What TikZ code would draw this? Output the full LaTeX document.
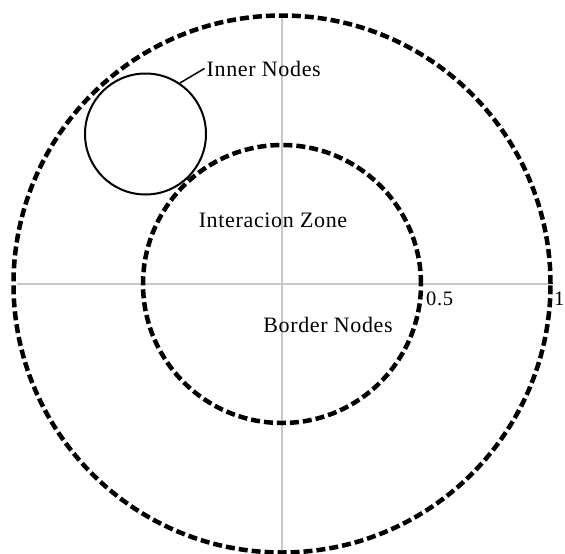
\documentclass[tikz,border=0pt]{standalone}
\usepackage{fontspec}
\setmainfont{Liberation Serif}[LetterSpace=3]
\tikzset{
  zone/.style={circle, draw, line width=4.5pt, dash pattern=on 9pt off 4pt, inner sep=0pt},
  solidzone/.style={circle, draw, line width=2pt, inner sep=0pt},
  axis/.style={draw=black!22, line width=1.2pt},
  lbl/.style={inner sep=0pt, font=\fontsize{22}{26}\selectfont},
  tick/.style={inner sep=0pt, font=\fontsize{20.5}{24}\selectfont}
}
\begin{document}
\begin{tikzpicture}[x=1pt,y=-1pt]
\useasboundingbox (0,0) rectangle (565,554);
% axes
\coordinate (hl) at (17,284);
\coordinate (hr) at (548,284);
\coordinate (vt) at (282,17);
\coordinate (vb) at (282,554);
\draw[axis] (hl) -- (hr);
\draw[axis] (vt) -- (vb);
% circles
\node[zone, minimum size=537pt] (outer) at (282,284) {};
\node[zone, minimum size=278pt] (inner) at (282,284) {};
\node[solidzone, minimum size=121pt] (small) at (145.5,134) {};
% labels
\node[lbl, anchor=base west] (innerlbl) at (206.5,76) {Inner Nodes};
\node[lbl, anchor=base] (zonelbl) at (273,227.3) {Interacion Zone};
\node[lbl, anchor=base] (borderlbl) at (328,332.7) {Border Nodes};
\node[tick, anchor=base west] (half) at (426,305.7) {0.5};
\node[tick, anchor=base east] (one) at (564.5,305.7) {1};
\draw[line width=1.5pt] (small.56) -- ([xshift=-2pt]innerlbl.west);
\end{tikzpicture}
\end{document}
